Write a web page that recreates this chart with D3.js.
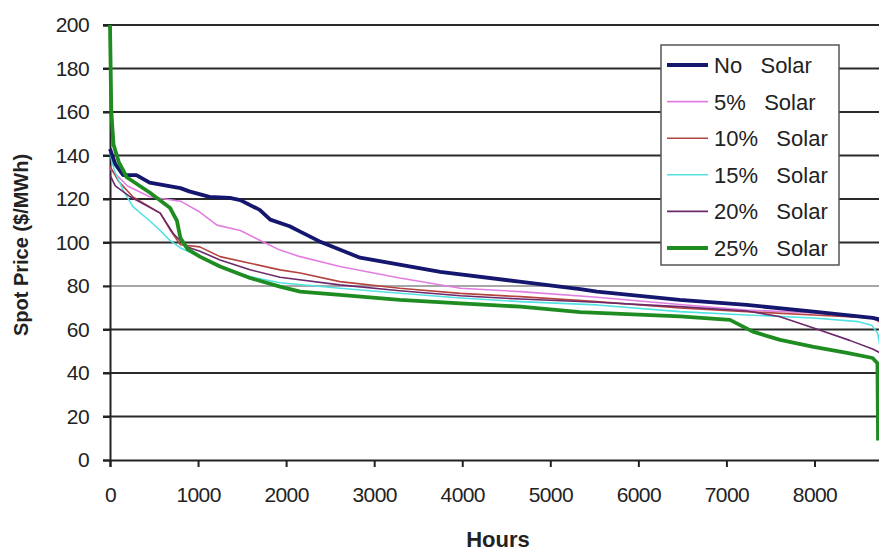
<!DOCTYPE html>
<html>
<head>
<meta charset="utf-8">
<script src="https://cdn.jsdelivr.net/npm/d3@7"></script>
<style>
  html, body { margin: 0; padding: 0; background: #fff; }
  svg { display: block; }
  text { font-family: Arial, "Liberation Sans", sans-serif; fill: #222; }
</style>
</head>
<body>
<svg id="chart" width="879" height="552"></svg>
<script>
// ---- Data (hours, spot price $/MWh) ----
const seriesNames = ["No   Solar", "5%   Solar", "10%   Solar", "15%   Solar", "20%   Solar", "25%   Solar"];
const seriesColors = ["#15166e", "#e27ee2", "#b4443f", "#52e2e2", "#6c2a6c", "#1f8c22"];
const seriesWidths = [3.8, 1.6, 1.6, 1.6, 1.6, 3.8];

const noSolar = [[0,143],[60,136],[150,131],[300,131],[450,127.5],[800,125],[900,123.5],[1130,121],[1360,120.5],[1480,119.5],[1700,115],[1820,110.5],[2040,107.5],[2160,105],[2380,100.5],[2840,93],[3750,86.5],[4650,82],[5340,78.6],[5530,77.4],[6470,73.6],[7230,71.3],[7990,68.2],[8660,65.3],[8760,64.5]];
const solar5 = [[0,134],[100,130],[200,126],[450,121],[800,119],[1020,114],[1215,108],[1480,105.5],[1700,101],[1930,96.5],[2160,93.5],[2610,89],[3290,83.7],[3980,79],[4660,77.4],[5530,74.8],[6470,71.5],[7230,69],[7990,67.6],[8660,65.3],[8760,63.5]];
const solar10 = [[0,135],[100,128],[260,121],[570,113.5],[680,106],[800,99],[1020,98],[1250,93.5],[1590,90.5],[1930,87.4],[2160,86],[2610,82],[3290,79],[3980,76.6],[4660,75.1],[5530,72.8],[6470,69.9],[7230,68.2],[7990,66.7],[8660,65.3],[8760,63]];
const solar15 = [[0,141],[50,133],[150,124],[260,116.5],[450,110],[570,105.5],[680,101],[800,97.5],[1020,93.5],[1250,89],[1590,84.3],[1930,81.5],[2610,79],[3290,76.7],[3980,74.5],[4660,72.8],[5530,71.3],[6470,68.2],[7230,66.7],[7990,65.3],[8500,63.6],[8650,62],[8720,58],[8760,48]];
const solar20 = [[0,131],[60,126],[230,121],[570,113.5],[720,104],[870,98],[1020,96],[1250,92],[1590,87.5],[1930,84],[2610,80.5],[3290,77.8],[3980,75.5],[4660,74],[5530,72.5],[6470,70.5],[7230,68.5],[7600,66],[7990,60.7],[8400,55],[8660,51],[8760,49]];
const solar25 = [[0,200],[15,160],[40,145],[100,137],[190,130],[450,123],[680,116],[760,110],[800,102],[880,97],[1020,93.5],[1250,89],[1590,83.7],[1930,79.7],[2160,77.4],[2610,75.9],[3290,73.6],[3980,72],[4660,70.5],[5340,68],[6470,66],[7040,64.4],[7300,59],[7610,55.2],[7990,52],[8370,49.2],[8660,46.9],[8715,44.5],[8722,9]];

const allSeries = [noSolar, solar5, solar10, solar15, solar20, solar25];

const yTicks = [0, 20, 40, 60, 80, 100, 120, 140, 160, 180, 200];
const xTicks = [0, 1000, 2000, 3000, 4000, 5000, 6000, 7000, 8000];
const xTitle = "Hours";
const yTitle = "Spot Price ($/MWh)";

// ---- Layout ----
const svg = d3.select("#chart");
const x = d3.scaleLinear().domain([0, 8760]).range([110, 881.4]);
const y = d3.scaleLinear().domain([0, 200]).range([460, 25]);

// gridlines
svg.append("g").selectAll("line")
  .data(yTicks.filter(d => d > 0))
  .join("line")
  .attr("x1", 103).attr("x2", 879)
  .attr("y1", d => y(d)).attr("y2", d => y(d))
  .attr("stroke", d => d === 80 ? "#8a8a8a" : "#2a2a2a")
  .attr("stroke-width", d => d === 80 ? 1.5 : 2);

// y axis
const yAxis = svg.append("g")
  .attr("transform", "translate(110,0)")
  .call(d3.axisLeft(y).tickValues(yTicks).tickSize(7).tickPadding(14).tickFormat(d3.format("d")));
yAxis.select(".domain").attr("stroke", "#222").attr("stroke-width", 2);
yAxis.selectAll(".tick line").attr("stroke", "#222").attr("stroke-width", 2);
yAxis.selectAll(".tick text")
  .attr("font-size", 21).attr("fill", "#222").style("letter-spacing", "-0.6px")
  .attr("font-family", "Arial, 'Liberation Sans', sans-serif");

// x axis
const xAxis = svg.append("g")
  .attr("transform", "translate(0,460)")
  .call(d3.axisBottom(x).tickValues(xTicks).tickSize(7).tickPadding(20).tickFormat(d3.format("d")));
xAxis.select(".domain").attr("stroke", "#222").attr("stroke-width", 2);
xAxis.selectAll(".tick line").attr("stroke", "#222").attr("stroke-width", 2);
xAxis.selectAll(".tick text")
  .attr("font-size", 21).attr("fill", "#222").style("letter-spacing", "-0.6px")
  .attr("font-family", "Arial, 'Liberation Sans', sans-serif");

// lines
const line = d3.line().x(d => x(d[0])).y(d => y(d[1])).curve(d3.curveLinear);
const drawOrder = [1, 2, 3, 4, 0, 5];
svg.append("g").selectAll("path")
  .data(drawOrder)
  .join("path")
  .attr("d", i => line(allSeries[i]))
  .attr("fill", "none")
  .attr("stroke", i => seriesColors[i])
  .attr("stroke-width", i => seriesWidths[i])
  .attr("stroke-linejoin", "round");

// axis titles
svg.append("text")
  .attr("x", 498).attr("y", 547)
  .attr("text-anchor", "middle")
  .attr("font-size", 22).attr("font-weight", "bold")
  .text(xTitle);

svg.append("text")
  .attr("transform", "translate(28,245) rotate(-90)")
  .attr("text-anchor", "middle")
  .attr("font-size", 20).attr("font-weight", "bold")
  .text(yTitle);

// legend
const legend = svg.append("g");
legend.append("rect")
  .attr("x", 661).attr("y", 45).attr("width", 178).attr("height", 220)
  .attr("fill", "#fff").attr("stroke", "#555").attr("stroke-width", 1.5);
const rowY = d3.scalePoint().domain(d3.range(seriesNames.length)).range([65, 248]);
const rows = legend.selectAll("g.row").data(d3.range(seriesNames.length)).join("g").attr("class", "row");
rows.append("line")
  .attr("x1", 667).attr("x2", 708)
  .attr("y1", i => rowY(i)).attr("y2", i => rowY(i))
  .attr("stroke", i => seriesColors[i])
  .attr("stroke-width", i => seriesWidths[i]);
rows.append("text")
  .attr("x", 714).attr("y", i => rowY(i)).attr("dy", "0.36em")
  .attr("font-size", 22)
  .style("white-space", "pre")
  .text(i => seriesNames[i]);
</script>
</body>
</html>
